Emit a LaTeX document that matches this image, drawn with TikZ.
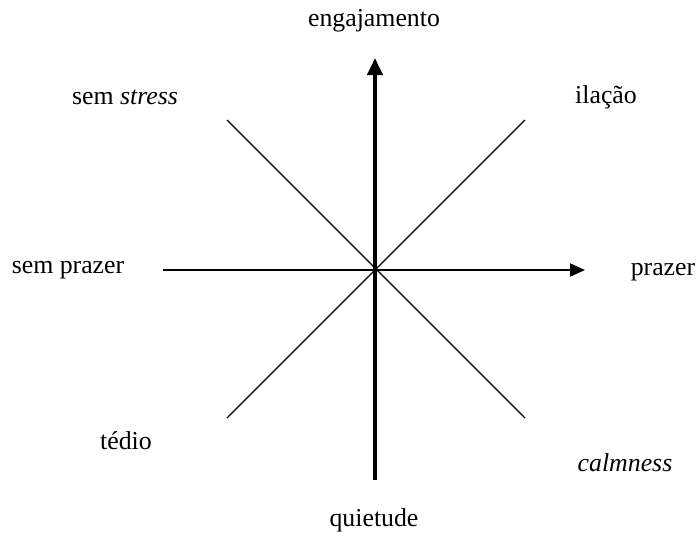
\documentclass[tikz,border=0pt]{standalone}
\usepackage{fontspec}
\setmainfont{Liberation Serif}
\usetikzlibrary{arrows.meta, positioning}
\tikzset{
  every picture/.style={font=\fontsize{12.9}{15}\selectfont},
  label/.style={inner sep=1pt, anchor=center},
  axisv/.style={-{Triangle[length=8.5pt, width=7.5pt]}, line width=2pt},
  axish/.style={-{Triangle[length=7.5pt, width=6.5pt]}, line width=1pt},
  diag/.style={line width=0.7pt},
}
\begin{document}
\begin{tikzpicture}[x=0.5pt, y=-0.5pt]
  \useasboundingbox (0,0) rectangle (698,532);
  % axis ends
  \coordinate (c) at (375,270);
  \coordinate (vtop) at (375,58);
  \coordinate (vbot) at (375,480);
  \coordinate (hl) at (163,270);
  \coordinate (hr) at (585,270);
  \coordinate (nw) at (227,120);
  \coordinate (ne) at (525,120);
  \coordinate (sw) at (227,418);
  \coordinate (se) at (525,418);
  % labels
  \node[label] (eng) at (374,21) {engajamento};
  \node[label] (qui) at (374,520) {quietude};
  \node[label] (semp) at (68,270) {sem prazer};
  \node[label] (pra) at (663,272) {prazer};
  \node[label] (sems) at (125,97) {sem \textit{stress}};
  \node[label] (ila) at (606,97) {ilação};
  \node[label] (ted) at (126,441) {tédio};
  \node[label] (cal) at (625,463) {\textit{calmness}};
  % axes
  \draw[diag] (nw) -- (se);
  \draw[diag] (sw) -- (ne);
  \draw[axish] (hl) -- (hr);
  \draw[axisv] (vbot) -- (vtop);
\end{tikzpicture}
\end{document}
